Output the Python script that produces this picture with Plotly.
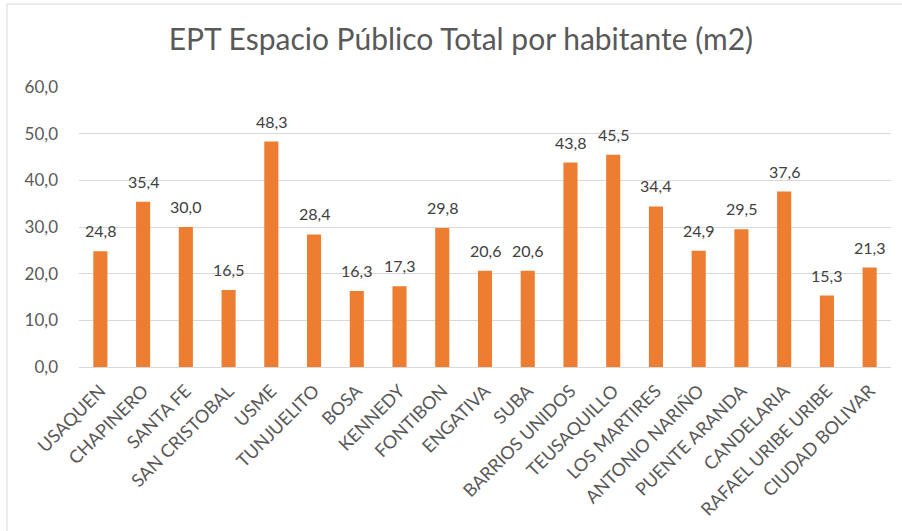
import plotly.graph_objects as go

localidades = [
    "USAQUEN", "CHAPINERO", "SANTA FE", "SAN CRISTOBAL", "USME", "TUNJUELITO",
    "BOSA", "KENNEDY", "FONTIBON", "ENGATIVA", "SUBA", "BARRIOS UNIDOS",
    "TEUSAQUILLO", "LOS MARTIRES", "ANTONIO NARIÑO", "PUENTE ARANDA",
    "CANDELARIA", "RAFAEL URIBE URIBE", "CIUDAD BOLIVAR",
]
ept_m2 = [24.8, 35.4, 30.0, 16.5, 48.3, 28.4, 16.3, 17.3, 29.8, 20.6, 20.6,
          43.8, 45.5, 34.4, 24.9, 29.5, 37.6, 15.3, 21.3]
y_ticks = [0, 10, 20, 30, 40, 50, 60]

FONT = "Lato, Carlito, Calibri, sans-serif"
GRAY = "#595959"

fig = go.Figure(
    go.Bar(
        x=localidades,
        y=ept_m2,
        marker=dict(color="#ED7D31", line=dict(width=0)),
        cliponaxis=False,
    )
)

# value labels floating a little above each bar
value_labels = [
    dict(
        x=loc, y=val, xref="x", yref="y",
        text=f"{val:.1f}".replace(".", ","),
        showarrow=False, yanchor="bottom", yshift=9,
        font=dict(family=FONT, size=16, color="#404040"),
    )
    for loc, val in zip(localidades, ept_m2)
]

fig.update_layout(
    width=902,
    height=531,
    margin=dict(l=79, r=11, t=87, b=164),
    paper_bgcolor="white",
    plot_bgcolor="white",
    separators=",.",
    bargap=0.67,
    showlegend=False,
    title=dict(
        text="EPT Espacio Público Total por habitante (m2)",
        x=0.511, xanchor="center",
        y=0.925, yanchor="middle",
        font=dict(family=FONT, size=30, color=GRAY),
    ),
    xaxis=dict(
        tickangle=-45,
        tickfont=dict(family=FONT, size=18, color=GRAY),
        showgrid=False,
        showline=False,
        ticks="",
        ticklabelstandoff=9,
    ),
    yaxis=dict(
        range=[0, 60],
        tickvals=y_ticks,
        tickformat=".1f",
        tickfont=dict(family=FONT, size=17, color=GRAY),
        showgrid=True,
        gridcolor="#D9D9D9",
        gridwidth=1,
        zeroline=True,
        zerolinecolor="#D9D9D9",
        zerolinewidth=1,
        showline=False,
        ticks="",
        ticklabelstandoff=20,
    ),
    annotations=value_labels,
    shapes=[
        dict(
            type="rect", xref="paper", yref="paper",
            x0=-0.0887, x1=1.02, y0=-0.62, y1=1.296,
            line=dict(color="#D9D9D9", width=1),
            fillcolor="rgba(0,0,0,0)", layer="below",
        )
    ],
)

fig.write_html("out.html")
